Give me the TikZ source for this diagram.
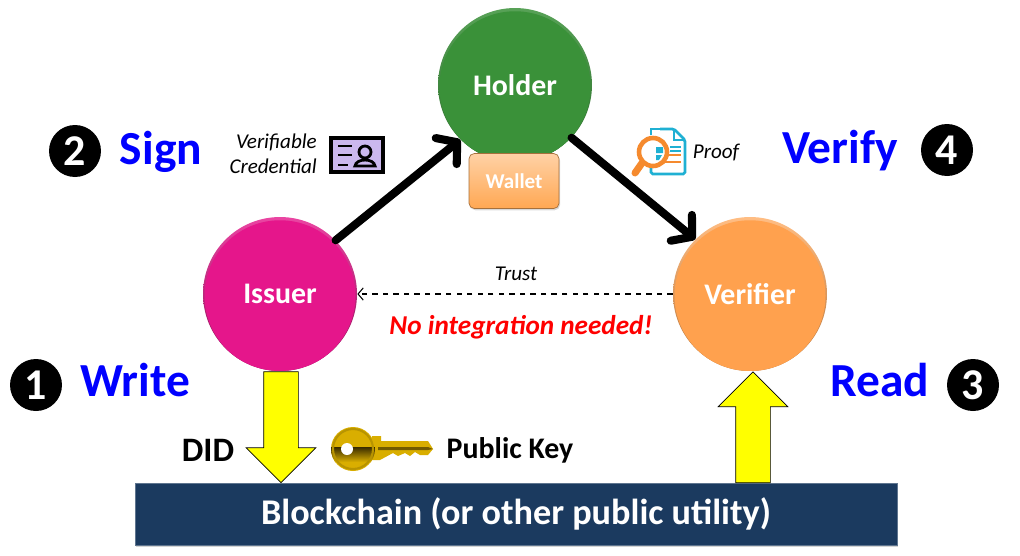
\documentclass[tikz,border=0pt]{standalone}
\usepackage{fontspec}
\setmainfont{Carlito}
\usetikzlibrary{arrows.meta,shapes.arrows,shadows}
\definecolor{issuerCol}{HTML}{E5168B}
\definecolor{holderCol}{HTML}{3A9139}
\definecolor{verifierCol}{HTML}{FFA14E}
\definecolor{walletCol}{HTML}{FFAC5C}
\definecolor{chainCol}{HTML}{1B3A5F}
\definecolor{cardCol}{HTML}{CBB8EE}
\definecolor{docCol}{HTML}{1FB0D3}
\definecolor{lensCol}{HTML}{F58A2E}
\definecolor{keyCol}{HTML}{D9AE00}
\definecolor{keyDark}{HTML}{3A2C00}
\definecolor{arrowCol}{RGB}{255,255,0}
\definecolor{stepCol}{RGB}{0,0,255}
\definecolor{alertCol}{RGB}{255,0,0}
\newcommand{\fs}[1]{\fontsize{#1}{#1}\selectfont}
\begin{document}
\begin{tikzpicture}[x=0.02cm,y=-0.02cm]
%styles des noeuds
\tikzstyle{disc}=[circle, minimum size=3.08cm, inner sep=0pt, text=white, font=\fs{17}\bfseries]
\tikzstyle{rim}=[path picture={\fill[#1] ([yshift=-1pt]path picture bounding box.center) circle (75.5);}]
\tikzstyle{stepText}=[text=stepCol, font=\fs{27}\bfseries]
\tikzstyle{numDot}=[circle, fill=black, minimum size=1.04cm, inner sep=0pt, text=white, font=\fs{25}\bfseries]
\tikzstyle{noteText}=[text=black, font=\fs{12}\itshape]
\tikzstyle{boldText}=[text=black, font=\bfseries]
\tikzstyle{bigArrow}=[single arrow, draw=black, fill=arrowCol, thin, inner xsep=0pt, inner ysep=0.34cm, minimum height=2.22cm, minimum width=1.38cm, single arrow head extend=0.35cm, single arrow tip angle=90, single arrow head indent=0pt]
\tikzstyle{flow}=[-{Straight Barb[length=8pt,width=19pt,round]}, line width=4.6pt, line cap=round, black]
\useasboundingbox (0,0) rectangle (1020,555);
%figure
\node[disc, top color=holderCol!85!white, bottom color=holderCol!75!black, rim=holderCol] (holder) at (515,85) {};
\node[rectangle, rounded corners=3pt, minimum width=1.8cm, minimum height=1.1cm, top color=walletCol!55!white, middle color=walletCol, bottom color=walletCol!90!orange, draw=walletCol!65!black, drop shadow={opacity=0.3,shadow xshift=0.6pt,shadow yshift=-1pt}, text=white, font=\fs{12}\bfseries] (wallet) at (514,181) {Wallet};
\node[text=white, font=\fs{17}\bfseries] (holderText) at (515,85) {Holder};
\node[disc, top color=issuerCol!80!white, bottom color=issuerCol!60!black, rim=issuerCol] (issuer) at (280,294) {Issuer};
\node[disc, top color=verifierCol!70!white, bottom color=verifierCol!70!black, rim=verifierCol] (verifier) at (750,294) {Verifier};
\node[rectangle, fill=chainCol, draw=chainCol!70!white, minimum width=15.24cm, minimum height=1.24cm, drop shadow={opacity=0.35,shadow xshift=0.6pt,shadow yshift=-1.2pt}, text=white, font=\fs{20.6}\bfseries] (chain) at (516,514) {Blockchain (or other public utility)};
%nodes
\node[numDot] (dotA) at (36,385) {1};
\node[stepText] (write) at (135,380) {Write};
\node[numDot] (dotB) at (75,151) {2};
\node[stepText] (sign) at (161,152) {Sign};
\node[numDot] (dotC) at (973,385) {3};
\node[stepText] (read) at (880,380) {Read};
\node[numDot] (dotD) at (947,150) {4};
\node[stepText] (verify) at (840,151) {Verify};

\node[noteText, align=right, anchor=east] (credText) at (323,154) {Verifiable\\[2pt]Credential};
\node[noteText] (proofText) at (716,153) {Proof};
\node[noteText] (trustText) at (516,274) {Trust};
\node[text=alertCol, font=\fs{15.5}\bfseries\itshape] (noIntegration) at (521,327) {No integration needed!};
\node[boldText, font=\fs{19.5}\bfseries] (did) at (208,450) {DID};
\node[boldText, font=\fs{17}\bfseries] (pubKey) at (510,450) {Public Key};

\node[bigArrow, rotate=-90] (didArrow) at (281,418.5) {};
\node[bigArrow, rotate=90] (readArrow) at (753,436) {};
%icones
\draw[line width=1.8pt, fill=cardCol] (331,138) rectangle (383,172);
\draw[line width=1.6pt] (338,146) -- (352,146) (338,155) -- (352,155) (338,165) -- (348,165);
\draw[line width=1.6pt] (365,152) circle (6);
\draw[line width=1.6pt] (355,166) .. controls (356,158) and (374,158) .. (375,166) -- cycle;

\draw[docCol, line width=1.6pt, rounded corners=1pt] (660,129) -- (674,129) -- (685,140) -- (685,174) -- (651,174) -- (651,168);
\draw[docCol, line width=1.6pt] (651,135) -- (651,129) -- (660,129) (674,129) -- (674,140) -- (685,140);
\draw[docCol, line width=1.3pt] (670,147) -- (681,147) (670,151) -- (681,151);
\draw[lensCol, line width=1.3pt] (667,155) -- (681,155) (664,162) -- (681,162);
\draw[fill=white, draw=lensCol, line width=2.6pt] (653,152) circle (14);
\fill[docCol] (656,147) -- (663,147) -- (663,153) -- (656,153) -- cycle (656,155) -- (662,155) -- (659,160) -- (656,160) -- cycle;
\draw[lensCol, line width=4pt, line cap=round] (642,163) -- (635,173);

\fill[keyCol] (372,436) -- (381,436) -- (381,441) -- (428,441) -- (433,449) -- (428,455) -- (420,455) -- (415,452) -- (410,456) -- (405,453) -- (398,456) -- (393,453) -- (380,460) -- (372,460) -- cycle;
\fill[keyCol!35!keyDark] (378,447) -- (428,447) -- (433,449) -- (428,450) -- (378,450) -- cycle;
\fill[keyCol] (353,449) circle (22);
\begin{scope}
\clip (353,449) circle (22);
\shade[top color=keyDark, bottom color=keyCol] (331,447) rectangle (376,462);
\end{scope}
\draw[keyCol!85!black, line width=1.2pt] (353,449) circle (20);
\fill[white] (347,449) circle (6);
%vecteurs
\draw[flow] (issuer.44) -- (holder.225);
\draw[flow] (holder.-43) -- (verifier.135);
\draw[dashed, -{Straight Barb[length=3pt,width=7pt]}, semithick] (verifier.west) -- (issuer.east);
\end{tikzpicture}
\end{document}
